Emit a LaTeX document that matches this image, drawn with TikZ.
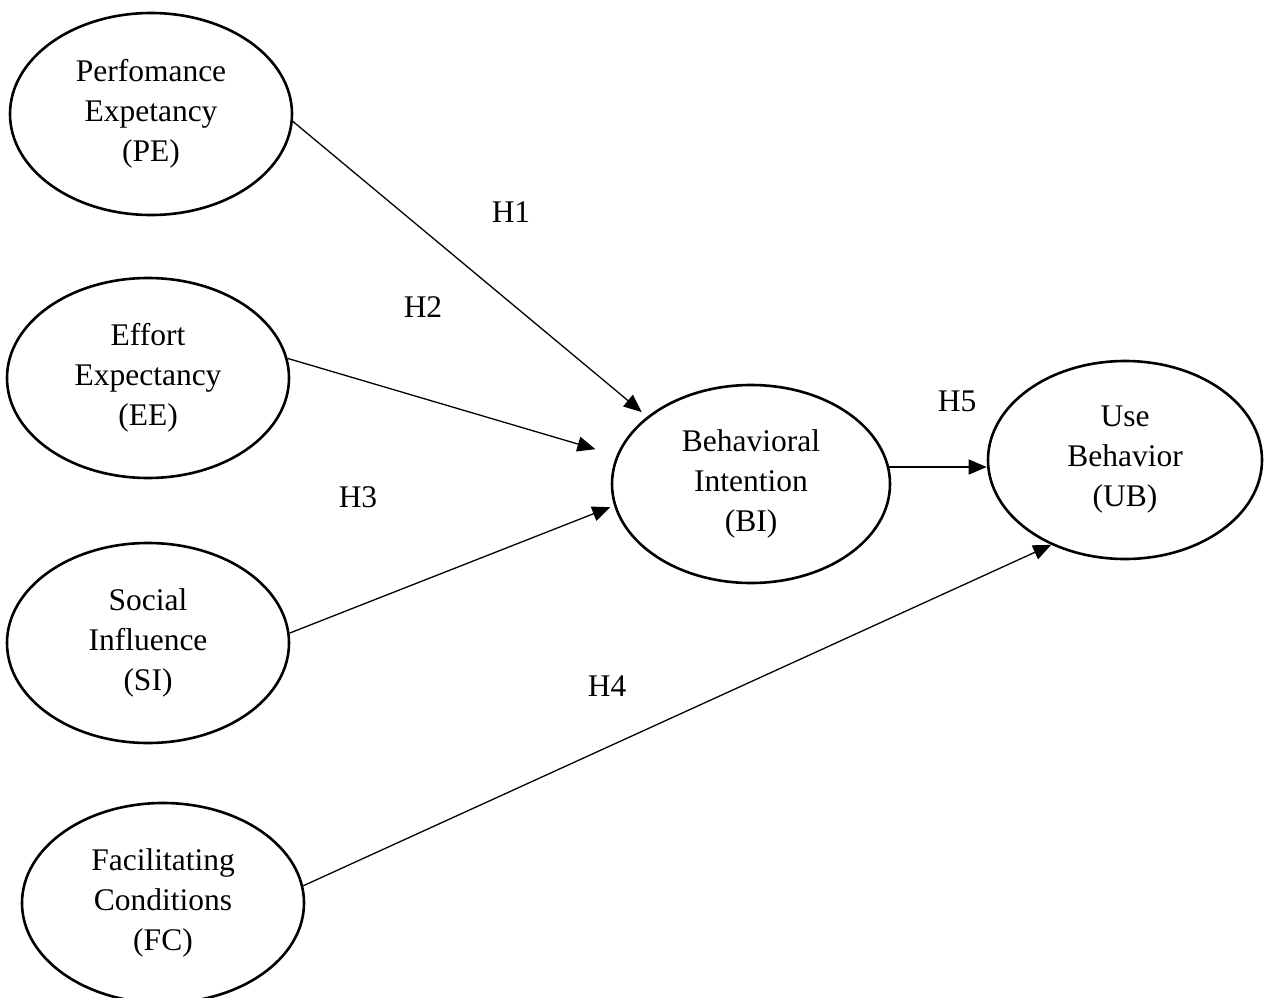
\documentclass[tikz,border=0pt]{standalone}
\usepackage{fontspec}
\setmainfont{Liberation Serif}
\usetikzlibrary{arrows.meta,shapes.geometric}
\begin{document}
\begin{tikzpicture}[x=1pt,y=-1pt,
  construct/.style={draw=black,line width=2.6pt,ellipse,inner sep=0pt,align=center,
    font=\fontsize{31.5}{40}\selectfont},
  hyp/.style={font=\fontsize{31.5}{40}\selectfont,inner sep=0pt},
  path/.style={draw=black,line width=1.3pt,-{Triangle[length=18pt,width=15pt]}}]
\useasboundingbox (0,0) rectangle (1264,998);
\node[construct,minimum width=282pt,minimum height=202pt] (pe) at (151,114) {Perfomance\\Expetancy\\(PE)};
\node[construct,minimum width=282pt,minimum height=200pt] (ee) at (148,378) {Effort\\Expectancy\\(EE)};
\node[construct,minimum width=282pt,minimum height=200pt] (si) at (148,643) {Social\\Influence\\(SI)};
\node[construct,minimum width=282pt,minimum height=200pt] (fc) at (163,903) {Facilitating\\Conditions\\(FC)};
\node[construct,minimum width=278pt,minimum height=198pt] (bi) at (751,484) {Behavioral\\Intention\\(BI)};
\node[construct,minimum width=274pt,minimum height=198pt] (ub) at (1125,460) {Use\\Behavior\\(UB)};
\node[hyp] (h1) at (511,212) {H1};
\node[hyp] (h2) at (423,307) {H2};
\node[hyp] (h3) at (358,497) {H3};
\node[hyp] (h4) at (607,686) {H4};
\node[hyp] (h5) at (957,401) {H5};
\draw[path,shorten >=7pt] (pe.-3) -- (bi.147);
\draw[path,shorten >=22pt] (ee.8) -- (bi.168);
\draw[path,shorten >=4pt] (si.4) -- (bi.189);
\draw[path] (fc.7) -- (ub.229);
\draw[path] (bi.7) -- (bi.7 -| ub.west);
\end{tikzpicture}
\end{document}
